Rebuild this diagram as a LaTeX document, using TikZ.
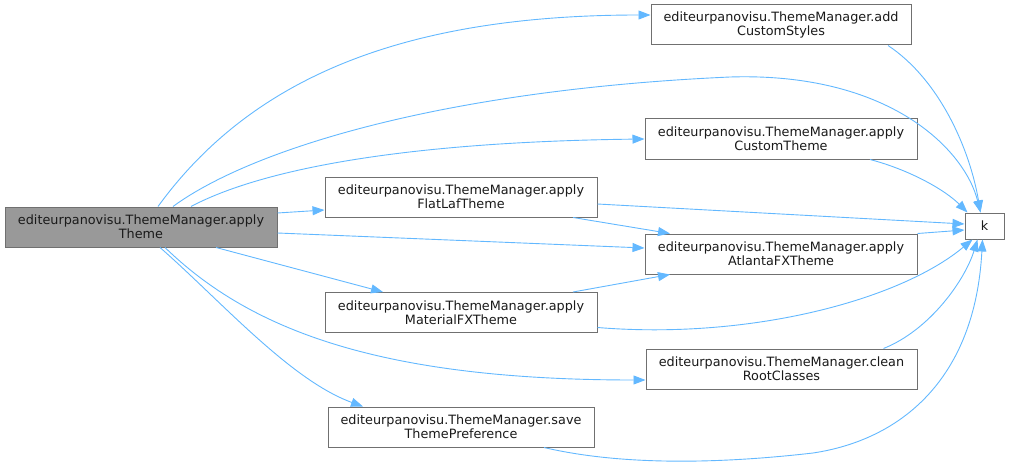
\documentclass[tikz,border=0pt]{standalone}
\usepackage{fontspec}
\setmainfont{DejaVu Sans}
\usetikzlibrary{arrows.meta}
\definecolor{edgeblue}{HTML}{63B8FF}
\definecolor{boxline}{HTML}{707070}
\definecolor{curfill}{HTML}{999999}
\definecolor{ink}{HTML}{1A1A1A}

\tikzset{
  fn/.style={draw=boxline,line width=1pt,fill=white,inner sep=0pt,
    minimum height=40pt,align=center,text=ink,
    font=\fontsize{12.8}{14}\selectfont},
  curfn/.style={fn,fill=curfill},
  call/.style={draw=edgeblue,line width=0.9pt,
    -{Triangle[length=12pt,width=9pt]}}
}

\begin{document}
\begin{tikzpicture}[x=1pt,y=-1pt]
      \useasboundingbox (0,0) rectangle (1009,468);
      % nodes, pixel coordinates, y downward
      \node[curfn,minimum width=272pt] (main) at (141,227) {editeurpanovisu.ThemeManager.apply\\Theme};
      \node[fn,minimum width=260pt] (addcs) at (781,25) {editeurpanovisu.ThemeManager.add\\CustomStyles};
      \node[fn,minimum width=272pt] (custom) at (781,139) {editeurpanovisu.ThemeManager.apply\\CustomTheme};
      \node[fn,minimum width=272pt] (flat) at (461,197) {editeurpanovisu.ThemeManager.apply\\FlatLafTheme};
      \node[fn,minimum width=272pt] (atlanta) at (781,254) {editeurpanovisu.ThemeManager.apply\\AtlantaFXTheme};
      \node[fn,minimum width=272pt] (material) at (461,312.5) {editeurpanovisu.ThemeManager.apply\\MaterialFXTheme};
      \node[fn,minimum width=271pt] (clean) at (781.5,369) {editeurpanovisu.ThemeManager.clean\\RootClasses};
      \node[fn,minimum width=266pt] (save) at (461,427) {editeurpanovisu.ThemeManager.save\\ThemePreference};
      \node[fn,minimum width=39pt,minimum height=26pt] (k) at (984.5,226) {k};
      % calls out of applyTheme
      \draw[call] ([xshift=17pt]main.north) .. controls (250,80) and (400,15) .. ([yshift=10pt]addcs.west);
      \draw[call] ([xshift=32pt]main.north) .. controls (250,150) and (440,90) .. (730,77)
                  .. controls (890,72) and (965,150) .. ([xshift=-4pt]k.north);
      \draw[call] ([xshift=50pt]main.north) .. controls (260,170) and (400,142) .. (custom.west);
      \draw[call] ([yshift=14pt]main.east) -- ([yshift=-13pt]flat.west);
      \draw[call] ([yshift=-6pt]main.east) -- ([yshift=6pt]atlanta.west);
      \draw[call] ([xshift=75pt]main.south) -- ([xshift=-78pt]material.north);
      \draw[call] ([xshift=24pt]main.south) .. controls (250,330) and (380,380) .. ([yshift=-11pt]clean.west);
      \draw[call] ([xshift=19pt]main.south) .. controls (220,300) and (290,380) .. ([xshift=-98pt]save.north);
      % calls into k
      \draw[call] ([xshift=107pt]addcs.south) .. controls (940,80) and (970,150) .. ([xshift=-4pt]k.north);
      \draw[call] ([xshift=89pt]custom.south) .. controls (910,170) and (945,190) .. ([xshift=3pt]k.north west);
      \draw[call] ([yshift=-7pt]flat.east) -- ([yshift=2pt]k.west);
      \draw[call] ([xshift=112pt]flat.south) -- ([xshift=-111pt]atlanta.north);
      \draw[call] (atlanta.north east) -- ([yshift=-4pt]k.west);
      \draw[call] ([xshift=112pt]material.north) -- ([xshift=-111pt]atlanta.south);
      \draw[call] ([yshift=-15pt]material.east) .. controls (750,340) and (900,300) .. ([xshift=-12pt]k.south);
      \draw[call] ([xshift=102pt]clean.north) .. controls (930,330) and (965,280) .. ([xshift=-7pt]k.south);
      \draw[call] ([xshift=83pt]save.south) .. controls (610,463) and (700,466) .. (813,453)
                  .. controls (900,440) and (975,380) .. ([xshift=-2pt]k.south);
    \end{tikzpicture}
\end{document}
